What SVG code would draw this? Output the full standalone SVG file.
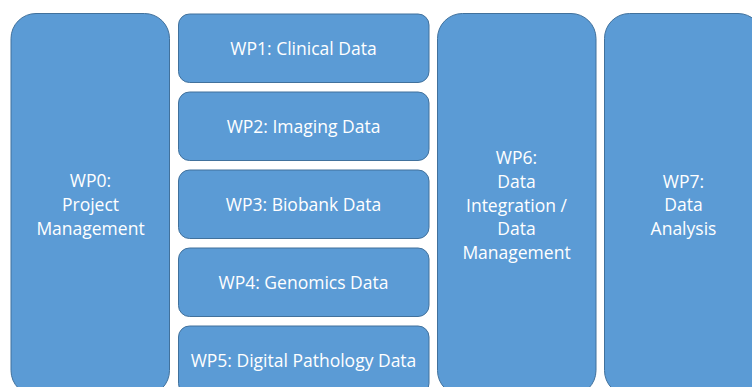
<svg xmlns="http://www.w3.org/2000/svg" width="752" height="387" viewBox="0 0 752 387">
  <style>
    .box { fill: #5B9BD5; stroke: #41719C; stroke-width: 1; }
    .lbl { fill: #FFFFFF; font-family: "Open Sans", "Liberation Sans", sans-serif; font-size: 17.5px; text-anchor: middle; }
  </style>
  <rect width="752" height="387" fill="#FFFFFF"/>

  <!-- Project management column -->
  <g id="wp0">
    <rect class="box" x="11" y="13.5" width="158.5" height="382" rx="25" ry="25"/>
    <text class="lbl" x="90.5" y="187">WP0:</text>
    <text class="lbl" x="90.5" y="211">Project</text>
    <text class="lbl" x="90.5" y="235">Management</text>
  </g>

  <!-- Data work packages stack -->
  <g id="wp1">
    <rect class="box" x="178.5" y="14" width="250.5" height="68.5" rx="11" ry="11"/>
    <text class="lbl" x="303.5" y="55">WP1: Clinical Data</text>
  </g>
  <g id="wp2">
    <rect class="box" x="178.5" y="92" width="250.5" height="68.5" rx="11" ry="11"/>
    <text class="lbl" x="303.5" y="133">WP2: Imaging Data</text>
  </g>
  <g id="wp3">
    <rect class="box" x="178.5" y="170" width="250.5" height="68.5" rx="11" ry="11"/>
    <text class="lbl" x="303.5" y="211">WP3: Biobank Data</text>
  </g>
  <g id="wp4">
    <rect class="box" x="178.5" y="248" width="250.5" height="68.5" rx="11" ry="11"/>
    <text class="lbl" x="303.5" y="289">WP4: Genomics Data</text>
  </g>
  <g id="wp5">
    <rect class="box" x="178.5" y="326" width="250.5" height="68.5" rx="11" ry="11"/>
    <text class="lbl" x="303.5" y="367">WP5: Digital Pathology Data</text>
  </g>

  <!-- Integration column -->
  <g id="wp6">
    <rect class="box" x="437.5" y="13.5" width="158.5" height="382" rx="25" ry="25"/>
    <text class="lbl" x="516.5" y="164">WP6:</text>
    <text class="lbl" x="516.5" y="187.5">Data</text>
    <text class="lbl" x="516.5" y="211.5">Integration /</text>
    <text class="lbl" x="516.5" y="235">Data</text>
    <text class="lbl" x="516.5" y="258.5">Management</text>
  </g>

  <!-- Analysis column -->
  <g id="wp7">
    <rect class="box" x="604.5" y="13.5" width="158.5" height="382" rx="25" ry="25"/>
    <text class="lbl" x="683.5" y="187.5">WP7:</text>
    <text class="lbl" x="683.5" y="211">Data</text>
    <text class="lbl" x="683.5" y="235">Analysis</text>
  </g>

  <g id="connectors"/>
</svg>
